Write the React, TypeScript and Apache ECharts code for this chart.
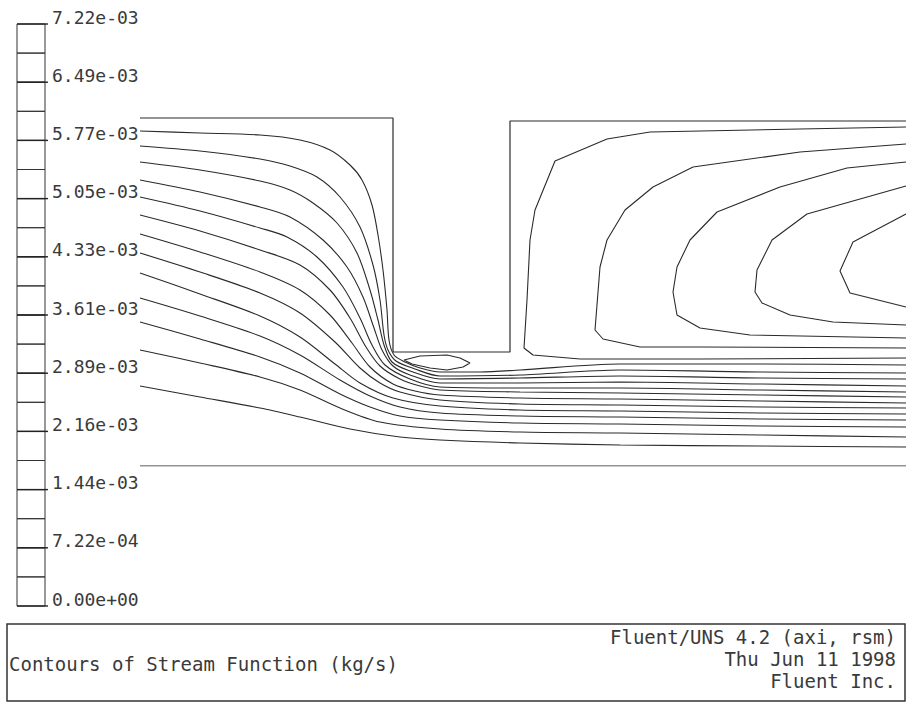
import React, { useEffect, useRef } from "react";
import * as echarts from "echarts";

// ---- colour-bar / annotation text ----
const colorbarLabels = [
  "7.22e-03", "6.49e-03", "5.77e-03", "5.05e-03", "4.33e-03", "3.61e-03",
  "2.89e-03", "2.16e-03", "1.44e-03", "7.22e-04", "0.00e+00",
];
const colorbarLevels = 20;
const titleText = "Contours of Stream Function (kg/s)";
const infoLines = ["Fluent/UNS 4.2 (axi, rsm)", "Thu Jun 11 1998", "Fluent Inc."];

// ---- geometry (x: axial, y: radial; arbitrary length units) ----
const wallOutline = [[0, 34.8], [25.3, 34.8], [25.3, 11.4], [37, 11.4], [37, 34.5], [76.6, 34.5]];
const symmetryAxis = [[0, 0], [76.6, 0]];

// ---- through-flow streamlines ----
const psi01 = [[0,33.5],[6,33.3],[12,33.1],[16,32.6],[19,31.6],[21,30.1],[22.2,28.6],[23.2,26.1],[23.8,23.1],[24.3,19.6],[24.7,15.6],[24.9,12.6],[25.4,11.1],[26.5,10.4],[28,9.8],[30,9.4],[34,9.4],[38,9.6],[48,10.2],[62,10.2],[76.6,10.1]];
const psi02 = [[0,32],[6,31.5],[12,30.7],[15,30],[17.7,28.9],[20,26.9],[22,23.9],[23.3,20.1],[24,16.6],[24.4,13.1],[24.8,11.6],[25.6,10.5],[27.5,9.7],[30,9.0],[38,9.1],[48,9.6],[62,9.4],[76.6,9.3]];
const psi03 = [[0,30.4],[6,29.6],[12,28.5],[15,27.6],[17.3,26.3],[19.7,24.3],[21.7,21.3],[23,17.6],[23.8,14.6],[24.4,12.1],[25.2,10.4],[27,9.5],[30,8.7],[38,8.8],[48,9],[62,8.8],[76.6,8.7]];
const psi04 = [[0,28.6],[6,27.4],[12,25.9],[15,24.9],[18.3,22.6],[20.7,19.9],[22.3,16.9],[23.4,13.8],[24.2,11.6],[25.3,10],[27,9.1],[30,8.3],[38,8.3],[48,8.4],[62,8.2],[76.6,8.0]];
const psi05 = [[0,26.9],[6,25.5],[12,23.8],[14.7,22.9],[17.7,20.9],[20.3,17.9],[22,14.8],[23.2,12.1],[24.5,10.1],[27,8.7],[30,7.9],[38,7.8],[48,7.8],[62,7.6],[76.6,7.4]];
const psi06 = [[0,25.1],[6,23.5],[12,21.6],[16,20.1],[19,17.6],[21,14.8],[22.6,11.9],[24,10],[26,8.7],[28,8],[30,7.6],[38,7.4],[48,7.3],[62,7.1],[76.6,6.9]];
const psi07 = [[0,23.2],[6,21.4],[12,19.4],[16,17.6],[19,15.1],[21.2,12.3],[23,9.9],[25.3,8.2],[27.5,7.5],[30,7.1],[38,6.8],[48,6.7],[62,6.5],[76.6,6.3]];
const psi08 = [[0,21.3],[6,19.4],[12,17.3],[16,15.3],[19.5,12.4],[22,9.8],[24,8.3],[26,7.4],[30,6.6],[38,6.2],[48,6.1],[62,5.9],[76.6,5.8]];
const psi09 = [[0,19.3],[6,17.2],[12,15],[16,12.9],[19.5,10.2],[22,8.3],[25.3,6.8],[30,6],[38,5.6],[48,5.5],[62,5.3],[76.6,5.2]];
const psi10 = [[0,16.8],[6,15],[12,13],[16,11.1],[20,8.6],[23,7],[26,5.9],[30,5.3],[38,5],[48,4.9],[62,4.7],[76.6,4.6]];
const psi11 = [[0,14.4],[6,12.7],[12,10.9],[16,9.3],[20,7.2],[23,5.9],[26,5],[30,4.6],[38,4.3],[48,4.2],[62,4],[76.6,3.9]];
const psi12 = [[0,11.6],[6,10.3],[12,8.9],[16,7.6],[20,5.8],[24,4.4],[30,3.7],[38,3.4],[48,3.3],[62,3.1],[76.6,2.9]];
const psi13 = [[0,8],[6,6.9],[12,5.8],[16,4.9],[21,3.7],[26,2.9],[30,2.6],[38,2.3],[48,2.1],[62,2],[76.6,1.9]];

// ---- recirculation contours (right cavity) ----
const vortexA = [[76.6,33.9],[66,33.7],[51,33.4],[46.7,32.7],[41.5,30.5],[39.5,25.6],[39,22.6],[38.7,16.6],[38.4,11.8],[39.3,11.1],[44,10.7],[56,10.7],[76.6,10.8]];
const vortexB = [[76.6,32.2],[66,31.4],[55.3,29.9],[51.3,27.9],[48.5,25.6],[46.7,22.6],[46,19.9],[45.5,13.6],[46.3,12.7],[50,11.9],[56,11.9],[76.6,11.8]];
const vortexC = [[76.6,30.4],[70.7,29.8],[64,27.9],[57.7,25.4],[55,22.6],[53.7,19.9],[53.3,17.4],[53.7,15.1],[56,13.8],[61,13.1],[76.6,12.8]];
const vortexD = [[76.6,28],[66.7,25.2],[63.2,22.6],[61.7,19.6],[61.5,17.4],[62.2,16.3],[65,15.1],[69.3,14.4],[76.6,14.1]];
const vortexE = [[76.6,25.2],[71.3,22.4],[70,19.5],[71,17.3],[76.6,15.9]];
// ---- small separation bubble under the cavity ----
const bubble = [[26.4,10.6],[28,11],[30.7,11.1],[32,10.8],[33,10.3],[32.3,9.9],[30.7,9.6],[29,9.8],[27.2,10.2],[26.4,10.6]];

const streamlines = [psi01, psi02, psi03, psi04, psi05, psi06, psi07, psi08, psi09, psi10, psi11, psi12, psi13];
const vortices = [vortexA, vortexB, vortexC, vortexD, vortexE, bubble];

const INK = "#2a2a2a";
const FONT = "DejaVu Sans Mono";

export default function App() {
  const ref = useRef<HTMLDivElement>(null);
  useEffect(() => {
    document.body.style.margin = "0";
    const chart = echarts.init(ref.current!, null, { renderer: "svg" });

    const lineSeries = (data: number[][], smooth: number | boolean, width = 1.1) => ({
      type: "line",
      data,
      showSymbol: false,
      symbol: "none",
      smooth,
      silent: true,
      lineStyle: { color: INK, width },
    });

    // colour bar
    const barX = 17, barW = 28, barTop = 24, barBottom = 606;
    const step = (barBottom - barTop) / colorbarLevels;
    const graphics: any[] = [];
    for (let i = 0; i < colorbarLevels; i++) {
      graphics.push({
        type: "rect",
        shape: { x: barX, y: barTop + i * step, width: barW, height: step },
        style: { fill: "none", stroke: "#333", lineWidth: 1 },
        silent: true,
      });
    }
    const labelStep = (barBottom - barTop) / (colorbarLabels.length - 1);
    colorbarLabels.forEach((t, k) => {
      const yy = barTop + k * labelStep;
      graphics.push({
        type: "line",
        shape: { x1: barX, y1: yy, x2: barX + barW + 3, y2: yy },
        style: { stroke: "#222", lineWidth: 1.4 },
        silent: true,
      });
      graphics.push({
        type: "text",
        style: {
          text: t, x: 52, y: yy - 7, font: `18px "${FONT}"`, fill: "#3a3a3a",
          textAlign: "left", textVerticalAlign: "middle",
        },
        silent: true,
      });
    });
    // info box
    graphics.push({
      type: "rect",
      shape: { x: 7, y: 624, width: 898, height: 77 },
      style: { fill: "none", stroke: "#333", lineWidth: 1.5 },
      silent: true,
    });
    graphics.push({
      type: "text",
      style: { text: titleText, x: 9, y: 664, font: `19px "${FONT}"`, fill: "#3a3a3a", textAlign: "left", textVerticalAlign: "middle" },
      silent: true,
    });
    infoLines.forEach((t, i) => {
      graphics.push({
        type: "text",
        style: { text: t, x: 896, y: 637 + i * 22, font: `19px "${FONT}"`, fill: "#3a3a3a", textAlign: "right", textVerticalAlign: "middle" },
        silent: true,
      });
    });

    chart.setOption({
      animation: false,
      backgroundColor: "#fff",
      grid: { left: 140, right: 6, top: 116, bottom: 240, containLabel: false },
      xAxis: { type: "value", min: 0, max: 76.6, show: false },
      yAxis: { type: "value", min: 0, max: 35, show: false },
      tooltip: { show: false },
      series: [
        lineSeries(wallOutline, false, 1.2),
        lineSeries(symmetryAxis, false, 1.2),
        ...streamlines.map((s) => lineSeries(s, 0.3)),
        ...vortices.map((s) => lineSeries(s, false)),
      ],
      graphic: graphics,
    });
    return () => chart.dispose();
  }, []);
  return (
    <div
      ref={ref}
      style={{ position: "fixed", left: 0, top: 0, width: 912, height: 706, background: "#fff" }}
    />
  );
}
